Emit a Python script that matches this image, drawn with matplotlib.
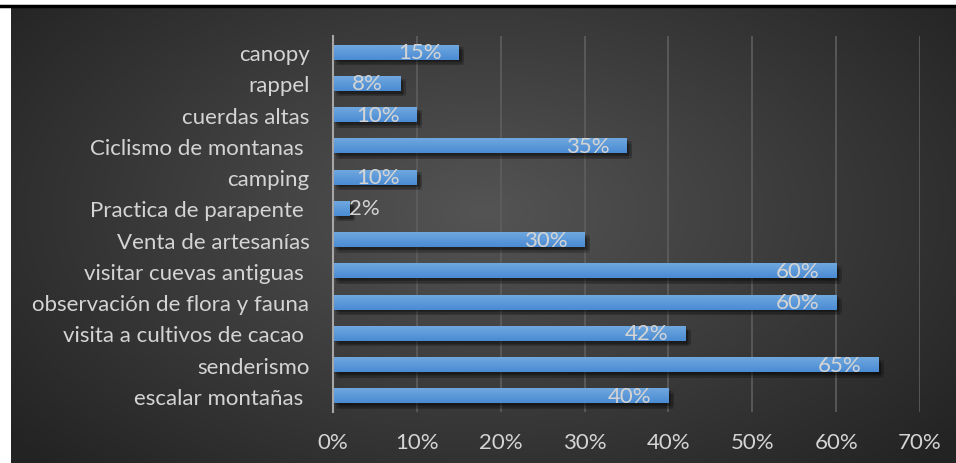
import numpy as np
import matplotlib
matplotlib.use('Agg')
import matplotlib.pyplot as plt
import matplotlib.patheffects as pe

categories = ['escalar montañas ', 'senderismo', 'visita a cultivos de cacao ',
              'observación de flora y fauna', 'visitar cuevas antiguas ',
              'Venta de artesanías', 'Practica de parapente ', 'camping',
              'Ciclismo de montanas ', 'cuerdas altas', 'rappel', 'canopy']
values = [40, 65, 42, 60, 60, 30, 2, 10, 35, 10, 8, 15]
xticks = [0, 10, 20, 30, 40, 50, 60, 70]

plt.rcParams['font.family'] = ['Lato', 'DejaVu Sans']
txt_col = '#d4d4d4'

W, H = 956, 464
fig = plt.figure(figsize=(W / 100, H / 100), dpi=100, facecolor='white')

# dark panel with radial gradient
bg = fig.add_axes([11 / W, 0, 1 - 11 / W, (H - 8) / H])
yy, xx = np.mgrid[0:1:300j, 0:1:600j]
r = np.sqrt(((xx - 0.5) / 0.75) ** 2 + ((yy - 0.55) / 0.9) ** 2)
shade = np.clip(0.33 - 0.22 * r, 0.14, 0.33)
bg.imshow(np.dstack([shade] * 3), aspect='auto', extent=[0, 1, 0, 1], origin='lower')
bg.set_axis_off()

# black rule at top
fig.add_artist(plt.Line2D([0, 1], [1 - 7 / H, 1 - 7 / H], color='black', lw=2.5,
                          transform=fig.transFigure))

ax = fig.add_axes([333 / W, 1 - 412.6 / H, (920 - 333) / W, (412.6 - 37.4) / H])
ax.patch.set_alpha(0)
y = np.arange(len(categories))
# soft shadow: a few stacked offsets
shadow = [pe.SimplePatchShadow(offset=(dx, -dy), shadow_rgbFace='black', alpha=0.12)
          for dx, dy in [(1, 1), (2, 2), (3, 3), (4, 4), (2, 4), (4, 2)]]
bars = ax.barh(y, values, height=0.48, color='#5b9bd5', zorder=3,
               path_effects=shadow + [pe.Normal()])

# vertical gradient on bars
grad = np.linspace(0, 1, 50).reshape(-1, 1)
cmap = matplotlib.colors.LinearSegmentedColormap.from_list('b', ['#4a8bd3', '#72aae0'])
for b in bars:
    im = ax.imshow(grad, cmap=cmap, aspect='auto', origin='lower', zorder=4,
                   extent=[b.get_x(), b.get_x() + b.get_width(), b.get_y(), b.get_y() + b.get_height()])
    im.set_clip_path(b)

for yi, v in zip(y, values):
    if v < 5:
        ax.annotate(f'{v}%', (v, yi), xytext=(-1, 0), textcoords='offset pixels',
                    ha='left', va='center', color=txt_col, fontsize=16, zorder=5)
    else:
        ax.annotate(f'{v}%', (v, yi), xytext=(-17, 0), textcoords='offset pixels',
                    ha='right', va='center', color=txt_col, fontsize=16, zorder=5)

ax.set_xlim(0, 70)
ax.set_ylim(-0.5, len(categories) - 0.5)
ax.set_xticks(xticks)
ax.set_xticklabels([f'{t}%' for t in xticks])
ax.set_yticks(y)
ax.set_yticklabels(categories)
ax.tick_params(axis='x', length=0, pad=15, labelsize=16, labelcolor=txt_col)
ax.tick_params(axis='y', length=0, pad=17, labelsize=16, labelcolor=txt_col)
ax.grid(axis='x', color='#5e5e5e', lw=1.2, zorder=0)
for s in ['top', 'right', 'bottom']:
    ax.spines[s].set_visible(False)
ax.spines['left'].set_color('#a6a6a6')
ax.spines['left'].set_linewidth(1.5)
ax.spines['left'].set_zorder(6)

fig.savefig('out.png', dpi=100, facecolor='white')
